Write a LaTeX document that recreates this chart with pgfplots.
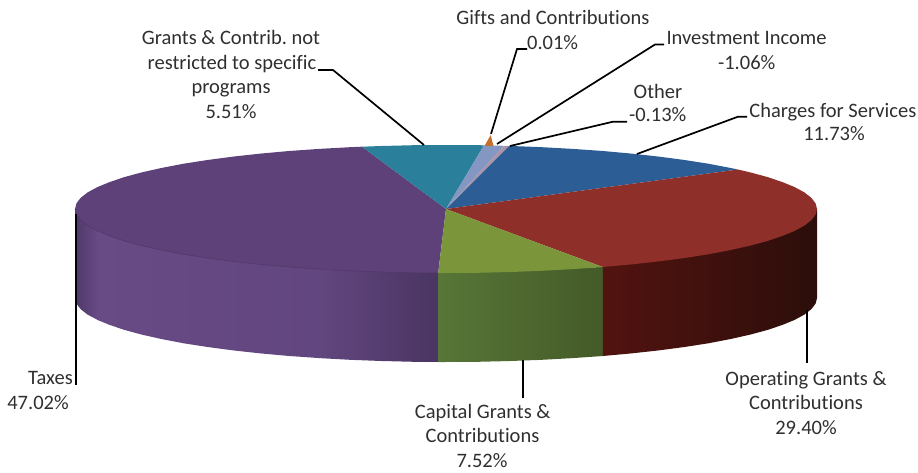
\documentclass[border=0pt]{standalone}
\usepackage{pgfplots}
\pgfplotsset{compat=1.18}
\usepackage{fontspec}
\setmainfont[Ligatures=NoCommon]{Carlito}
\frenchspacing
\definecolor{txt}{HTML}{2F2F2F}
\definecolor{topTaxes}{HTML}{5E4178}
\definecolor{topGrants}{HTML}{2A7F9B}
\definecolor{topCharges}{HTML}{2C5E95}
\definecolor{topOperating}{HTML}{8F2F2A}
\definecolor{topCapital}{HTML}{7A953A}
\definecolor{topInvest}{HTML}{8497C2}
\definecolor{topOther}{HTML}{AB95A8}
\definecolor{topGifts}{HTML}{C4702F}
\definecolor{sideTaxesDark}{HTML}{4E3969}
\definecolor{sideTaxesLight}{HTML}{684A85}
\definecolor{sideTaxesMid}{HTML}{62467F}
\definecolor{sideTaxesEnd}{HTML}{4A3562}
\definecolor{sideTaxesRim}{HTML}{513869}
\definecolor{sideCapitalA}{HTML}{587638}
\definecolor{sideCapitalB}{HTML}{445A28}
\definecolor{sideOperatingA}{HTML}{521310}
\definecolor{sideOperatingB}{HTML}{2C0E0A}
\newcommand{\lbl}[3]{\node[anchor=base,text=txt,font=\fontsize{20.5}{24}\selectfont,inner sep=0pt] at (axis cs:#1,#2) {#3};}
\begin{document}
\begin{tikzpicture}
\begin{axis}[
  width=918pt,height=473pt,scale only axis,
  xmin=0,xmax=918,ymin=0,ymax=473,y dir=reverse,
  axis lines=none,clip=false]

% keep the whole plotting area in the page
\path (axis cs:0,0) rectangle (axis cs:918,473);

% outer wall of the Taxes slice
\addplot[draw=none,left color=sideTaxesDark,right color=sideTaxesLight] coordinates {
  (75,209)(75,298)(76.4,303.6)(80.6,309.1)(87.6,314.6)(97.8,320)(97.8,231)};
\addplot[draw=none,left color=sideTaxesLight,right color=sideTaxesMid] coordinates {
  (97.4,231)(97.4,319.9)(109.8,325)(124.7,330)(142.1,334.7)(161.8,339.1)(183.7,343.3)(207.5,347)(233.2,350.4)
  (260.5,353.4)(289.2,356)(319.5,358.1)(319.5,269.1)};
\addplot[draw=none,left color=sideTaxesMid,right color=sideTaxesEnd] coordinates {
  (319.1,269.1)(319.1,358.1)(350,359.8)(381.6,361)(413.7,361.8)(438.2,362)(438.2,273)};
% outer wall of the Capital Grants slice
\addplot[draw=none,left color=sideCapitalA,right color=sideCapitalB] coordinates {
  (438.2,273)(438.2,362)(446,362)(478.3,361.8)(510.4,361)(542,359.8)(572.9,358.1)(602.8,356)(602.8,267)};
% outer wall of the Operating Grants slice
\addplot[draw=none,left color=sideOperatingA,middle color=sideOperatingB,right color=sideOperatingB] coordinates {
  (602.8,267)(602.8,356)(631.5,353.4)(658.8,350.4)(684.5,347)(708.3,343.3)(730.2,339.1)(749.9,334.7)
  (767.3,330)(782.2,325)(794.6,319.9)(804.4,314.6)(811.4,309.1)(815.6,303.6)(817,298)(817,209)};

% top faces
\addplot[draw=none,fill=topTaxes] coordinates {
  (446,209)(438.2,273)(413.7,272.8)(381.6,272)(350,270.8)(319.1,269.1)(289.2,267)(260.5,264.4)
  (233.2,261.4)(207.5,258)(183.7,254.3)(161.8,250.1)(142.1,245.7)(124.7,241)(109.8,236)(97.4,230.9)
  (87.6,225.6)(80.6,220.1)(76.4,214.6)(75,209)(76.4,203.4)(80.6,197.9)(87.6,192.4)(97.4,187.1)
  (109.8,182)(124.7,177)(142.1,172.3)(161.8,167.9)(183.7,163.7)(207.5,160)(233.2,156.6)(260.5,153.6)
  (289.2,151)(319.1,148.9)(350,147.2)(362,146.7)};
\addplot[draw=none,fill=topGrants] coordinates {
  (446,209)(362,146.7)(381.6,146)(413.7,145.2)(446,145)(478.3,145.2)(484,145.3)};
\addplot[draw=none,fill=topInvest] coordinates {
  (446,209)(484,145.3)(492,145.5)(504,145.8)};
\addplot[draw=none,fill=topOther] coordinates {
  (446,209)(504,145.8)(509.1,145.9)};
\addplot[draw=none,fill=topCharges] coordinates {
  (446,209)(509.1,145.9)(542,147.2)(572.9,148.9)(602.8,151)(631.5,153.6)(658.8,156.6)(684.5,160)
  (708.3,163.7)(730.2,167.9)(737.9,169.5)};
\addplot[draw=none,fill=topOperating] coordinates {
  (446,209)(737.9,169.5)(749.9,172.3)(767.3,177)(782.2,182)(794.6,187.1)(804.4,192.4)(811.4,197.9)
  (815.6,203.4)(817,209)(815.6,214.6)(811.4,220.1)(804.4,225.6)(794.6,230.9)(782.2,236)(767.3,241)
  (749.9,245.7)(730.2,250.1)(708.3,254.3)(684.5,258)(658.8,261.4)(631.5,264.4)(602.8,267)};
\addplot[draw=none,fill=topCapital] coordinates {
  (446,209)(602.8,267)(572.9,269.1)(542,270.8)(510.4,272)(478.3,272.8)(446,273)(438.2,273)};

% tip of the Gifts slice, rising above the rim
\addplot[draw=none,fill=topGifts] coordinates {(484.5,146)(490.7,135)(493.5,146)};

% darker rim where the Taxes top meets its wall
\addplot[draw=sideTaxesRim,line width=0.6pt] coordinates {
  (75,209)(76.4,214.6)(80.6,220.1)(87.6,225.6)(97.4,230.9)(109.8,236)(124.7,241)(142.1,245.7)
  (161.8,250.1)(183.7,254.3)(207.5,258)(233.2,261.4)(260.5,264.4)(289.2,267)(319.1,269.1)(350,270.8)
  (381.6,272)(413.7,272.8)(438.2,273)};

% leader lines
\addplot[black,line width=1.7pt] coordinates {(491,134)(517,49)(527,49)};
\addplot[black,line width=1.7pt] coordinates {(497,144)(655,44.5)(664,44.5)};
\addplot[black,line width=1.7pt] coordinates {(510,146)(613,121.7)(627,121.7)};
\addplot[black,line width=1.7pt] coordinates {(637,154)(738,116.7)(747,116.7)};
\addplot[black,line width=1.7pt] coordinates {(424,145)(333,70)(318,70)};
\addplot[black,line width=1.7pt] coordinates {(76,214)(76,385)};
\addplot[black,line width=1.7pt] coordinates {(807,310)(807,363)};
\addplot[black,line width=1.7pt] coordinates {(523,360)(523,398)};

% slice labels
\lbl{553}{24.7}{Gifts and Contributions}
\lbl{552.6}{49.3}{0.01\%}
\lbl{746.5}{45}{Investment Income}
\lbl{746.7}{69.3}{-1.06\%}
\lbl{658}{98.3}{Other}
\lbl{657.7}{121.7}{-0.13\%}
\lbl{832.8}{117.3}{Charges for Services}
\lbl{834}{141}{11.73\%}
\lbl{231}{45}{Grants \& Contrib. not}
\lbl{232}{69.3}{restricted to specific}
\lbl{231}{94}{programs}
\lbl{231}{119}{5.51\%}
\lbl{50.5}{384}{Taxes}
\lbl{38}{409.3}{47.02\%}
\lbl{482.7}{418.3}{Capital Grants \&}
\lbl{482.5}{442.7}{Contributions}
\lbl{482}{467.7}{7.52\%}
\lbl{806}{385}{Operating Grants \&}
\lbl{806}{409.3}{Contributions}
\lbl{806}{434}{29.40\%}
\end{axis}
\end{tikzpicture}
\end{document}
